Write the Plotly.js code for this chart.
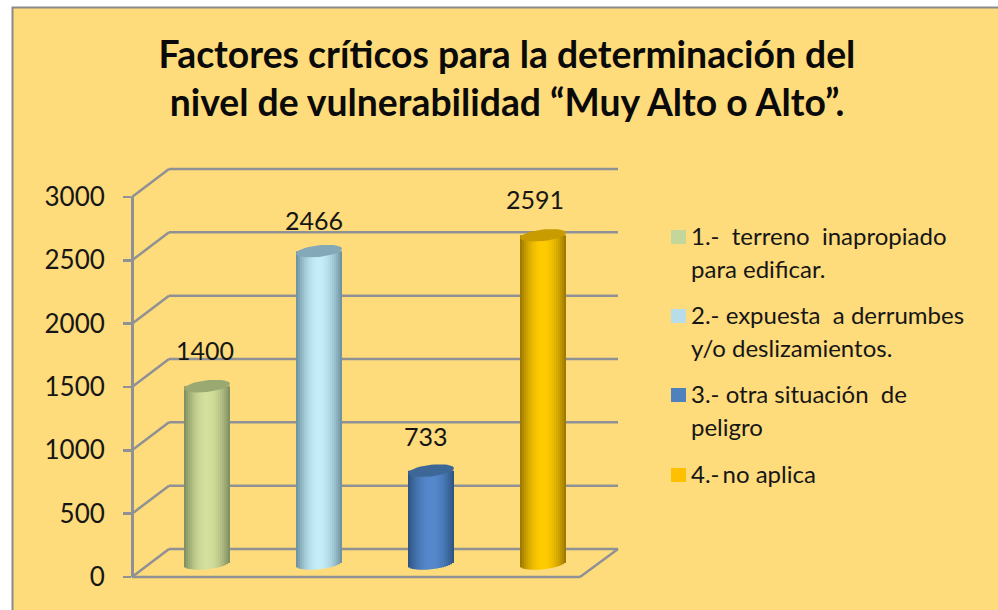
<!DOCTYPE html>
<html><head><meta charset="utf-8">
<script src="https://cdn.plot.ly/plotly-3.0.1.min.js"></script>
<style>html,body{margin:0;padding:0;background:#fff;overflow:hidden}</style>
</head><body><div id="chart" style="width:998px;height:610px"></div>
<script>
// ---- data ----
const categories = ["1","2","3","4"];
const values = [1400, 2466, 733, 2591];
const yTicks = [0, 500, 1000, 1500, 2000, 2500, 3000];
const titleLines = ["Factores críticos para la determinación del", "nivel de vulnerabilidad “Muy Alto o Alto”."];
const legendLine1 = ["1.-\u00a0\u00a0terreno\u00a0\u00a0inapropiado", "2.-\u00a0expuesta\u00a0\u00a0a\u00a0derrumbes", "3.-\u00a0otra\u00a0situación\u00a0\u00a0de", "4.-\u2009no aplica"];
const legendLine2 = ["para edificar.", "y/o deslizamientos.", "peligro", ""];
const lightColors = [[212,224,156],[196,237,248],[84,136,204],[255,203,0]];
const darkColors  = [[122,138,92],[104,140,156],[44,80,124],[150,116,0]];
const capColors   = ["#9aa972","#83a8b8","#3d6796","#c89c00"];
const swatchColors = ["#c3d69b","#b7dde8","#4f81bd","#ffc000"];

// ---- page geometry (pixels) ----
const W = 998, H = 610;
const frontBase = 577, frontTop = 197, pxPerUnit = (frontBase - frontTop) / 3000;
const axisX = 132, wallX = 169, wallR = 618, floorR = 580, depth = 28;
const barBase = 563.5, slicePx = 2, barPx = 46, xStart = 151, stepPx = 112;
const px = x => x / W, py = y => 1 - y / H;
const GREY = "#8f9195";

// ---- shapes: panel, walls ----
const shapes = [{type:"rect",layer:"below",xref:"paper",yref:"paper",x0:px(12.5),x1:px(1010),y0:py(7.5),y1:py(640),
  fillcolor:"#fedb7b",line:{color:"#8a8a8a",width:2}}];
function seg(x0,y0,x1,y1){shapes.push({type:"line",layer:"below",xref:"paper",yref:"paper",x0:px(x0),x1:px(x1),y0:py(y0),y1:py(y1),line:{color:GREY,width:2.5}});}
yTicks.forEach(v=>{
  const y = frontBase - v*pxPerUnit;
  seg(axisX,y,wallX,y-depth);
  seg(wallX,y-depth,wallR,y-depth);
});
seg(axisX,frontBase,floorR,frontBase);
seg(floorR,frontBase,wallR,frontBase-depth);

// ---- cylinders: vertical strips through the bar scale ----
const nSlices = Math.round(barPx/slicePx);
const unitX = 1/stepPx, tiltPx = 2.4, radPx = 5.8;
const xs = categories.map((c,i)=>i+1);
// invisible trace so the left value axis is drawn
const traces = [{type:"scatter",mode:"none",x:xs,y:values,yaxis:"y",showlegend:false,hoverinfo:"skip",name:"axis"}];
for(let k=0;k<nSlices;k++){
  const t = (k+0.5)/nSlices*2-1;
  const f = Math.pow(Math.abs(t),2);
  const arc = Math.sqrt(1-t*t);
  const lowOff = (-tiltPx*t + radPx*arc)/pxPerUnit;   // below centre line, in value units
  const colors = categories.map((c,i)=>{
    const a=lightColors[i],b=darkColors[i];
    return `rgb(${[0,1,2].map(j=>Math.round(a[j]+(b[j]-a[j])*f)).join(",")})`;
  });
  const base = values.map(()=>-lowOff);
  traces.push({type:"bar",x:xs,y:values.map((v,i)=>v-base[i]),base:base,yaxis:"y2",opacity:1,
    width:slicePx*unitX,offset:(k*slicePx-barPx/2)*unitX,
    marker:{color:colors,opacity:1,line:{width:0}},showlegend:false,hoverinfo:"skip",name:"strip"+k});
}
// top caps
const T = []; for(let a=0;a<=48;a++) T.push(a/48*2*Math.PI);
values.forEach((v,i)=>{
  traces.push({type:"scatter",mode:"lines",x:T.map(a=>xs[i]+Math.cos(a)*barPx/2*unitX),
    y:T.map(a=>v+(tiltPx*Math.cos(a)+radPx*Math.sin(a))/pxPerUnit),yaxis:"y2",
    fill:"toself",fillcolor:capColors[i],line:{width:0,color:capColors[i]},showlegend:false,hoverinfo:"skip",name:categories[i]});
});

// ---- text ----
const INK="#161616", FONT="Lato, 'Open Sans', sans-serif";
const annotations = [];
const labelShift = [[-2,36],[-5,31],[-5,35],[-8,36]];
values.forEach((v,i)=>annotations.push({xref:"x",yref:"y2",x:xs[i],y:v,text:String(v),showarrow:false,
  xshift:labelShift[i][0],yshift:labelShift[i][1],font:{family:FONT,size:25,color:INK}}));
const legendY=[237,316,395,475];
legendLine1.forEach((s,i)=>{
  shapes.push({type:"rect",xref:"paper",yref:"paper",x0:px(671),x1:px(686),y0:py(legendY[i]-7),y1:py(legendY[i]+7),fillcolor:swatchColors[i],line:{width:0}});
  annotations.push({xref:"paper",yref:"paper",x:px(689),y:py(legendY[i]-2),xanchor:"left",yanchor:"middle",text:s,showarrow:false,font:{family:FONT,size:24,color:INK}});
  if(legendLine2[i]) annotations.push({xref:"paper",yref:"paper",x:px(689),y:py(legendY[i]+31),xanchor:"left",yanchor:"middle",text:legendLine2[i],showarrow:false,font:{family:FONT,size:24,color:INK}});
});

const layout = {
  width:W,height:H,margin:{l:0,r:0,t:0,b:0},paper_bgcolor:"#ffffff",plot_bgcolor:"rgba(0,0,0,0)",
  barmode:"overlay",showlegend:false,hovermode:false,shapes:shapes,annotations:annotations,
  title:{text:titleLines.join("<br>"),x:px(507),xanchor:"center",y:py(68),yanchor:"top",font:{family:FONT,size:37.3,color:"#0a0a0a",weight:700}},
  xaxis:{domain:[px(xStart),px(xStart+4*stepPx)],range:[0.5,4.5],visible:false,fixedrange:true},
  yaxis:{domain:[py(frontBase),py(frontTop)],range:[0,3000],anchor:"free",position:px(axisX),side:"left",
    tickmode:"array",tickvals:yTicks,ticktext:yTicks.map(String),ticks:"outside",ticklen:8,tickwidth:2.5,tickcolor:GREY,ticklabelstandoff:13,
    showline:true,linecolor:GREY,linewidth:2.5,showgrid:false,zeroline:false,fixedrange:true,
    tickfont:{family:FONT,size:26,color:INK}},
  yaxis2:{domain:[py(barBase+100*pxPerUnit),py(barBase-3100*pxPerUnit)],range:[-100,3100],visible:false,fixedrange:true}
};
Plotly.newPlot("chart",traces,layout,{displayModeBar:false,staticPlot:true});
</script></body></html>
